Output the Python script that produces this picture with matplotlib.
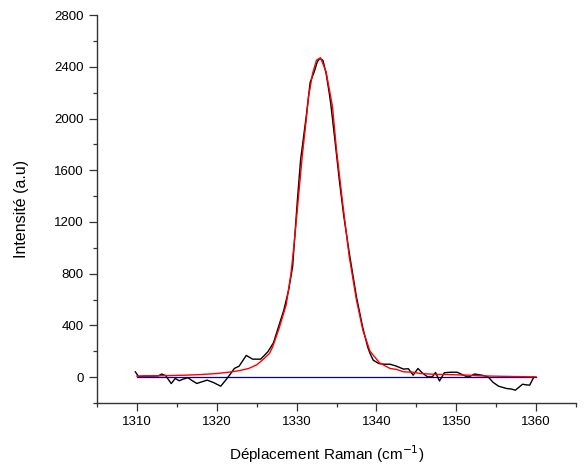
import matplotlib
matplotlib.use("Agg")
import matplotlib.pyplot as plt
from matplotlib.ticker import MultipleLocator

plt.rcParams['font.family'] = ['Liberation Sans', 'DejaVu Sans']

# Experimental Raman spectrum (black)
raman_x = [1309.8, 1310.2, 1311.0, 1312.0, 1312.7, 1313.1, 1313.6, 1314.3, 1314.8, 1315.3,
           1315.8, 1316.4, 1317.0, 1317.5, 1318.2, 1318.8, 1319.6, 1320.5, 1321.1, 1321.6,
           1322.2, 1322.8, 1323.7, 1324.5, 1325.5, 1326.4, 1327.1, 1327.8, 1328.4, 1329.0,
           1329.5, 1329.8, 1330.1, 1330.5, 1331.2, 1331.7, 1332.2, 1332.6, 1332.9, 1333.3,
           1333.7, 1334.1, 1334.3, 1334.8, 1335.4, 1335.9, 1336.6, 1337.5, 1338.3, 1338.9,
           1339.2, 1339.6, 1340.3, 1341.0, 1341.7, 1342.5, 1343.4, 1344.0, 1344.6, 1345.2,
           1345.7, 1346.4, 1347.0, 1347.4, 1347.9, 1348.5, 1349.3, 1350.1, 1350.9, 1351.5,
           1352.3, 1353.2, 1354.0, 1354.6, 1355.3, 1356.3, 1356.9, 1357.4, 1358.3, 1358.8,
           1359.2, 1359.7]
raman_y = [41, 5, 8, 8, 10, 24, 12, -50, -10, -28,
           -15, -5, -30, -49, -35, -23, -42, -70, -25, 15,
           67, 85, 168, 139, 139, 196, 265, 402, 518, 673,
           853, 1111, 1369, 1680, 2013, 2280, 2360, 2440, 2465, 2450,
           2348, 2193, 2103, 1833, 1498, 1250, 960, 620, 380, 234,
           183, 131, 105, 100, 100, 85, 62, 65, 15, 67,
           35, 2, 2, 36, -30, 34, 38, 38, 15, 0,
           24, 15, 2, -40, -70, -88, -92, -101, -55, -60,
           -62, 0]

# Fitted curve (red)
fit_x = [1310.0, 1312.0, 1314.0, 1316.0, 1318.0, 1320.0, 1321.5, 1322.8, 1324.0, 1325.0,
         1325.7, 1326.6, 1327.0, 1327.8, 1328.7, 1329.3, 1329.7, 1330.2, 1330.7, 1331.2,
         1331.5, 1332.0, 1332.5, 1333.0, 1333.7, 1334.5, 1335.0, 1335.8, 1336.6, 1337.5,
         1338.3, 1339.2, 1340.4, 1341.7, 1342.5, 1343.4, 1344.6, 1345.5, 1347.5, 1348.8,
         1351.5, 1353.0, 1356.0, 1360.0]
fit_y = [8, 10, 12, 15, 20, 28, 38, 50, 67, 95,
         131, 183, 234, 375, 560, 802, 1034, 1369, 1704, 1988,
         2168, 2348, 2452, 2470, 2361, 2090, 1756, 1330, 930, 596,
         363, 200, 110, 67, 60, 41, 38, 28, 21, 20,
         15, 10, 6, 2]

# Baseline (blue)
base_x = [1310, 1360]
base_y = [0, 0]

fig = plt.figure(figsize=(5.86, 4.72), dpi=100)
ax = fig.add_axes([0.1655, 0.1462, 0.8175, 0.8218])

ax.plot(base_x, base_y, color='#0000aa', lw=0.9)
ax.plot(raman_x, raman_y, color='black', lw=1.0)
ax.plot(fit_x, fit_y, color='#ff0000', lw=1.0)

ax.set_xlim(1305, 1365)
ax.set_ylim(-200, 2800)
ax.xaxis.set_major_locator(MultipleLocator(10))
ax.xaxis.set_minor_locator(MultipleLocator(5))
ax.yaxis.set_major_locator(MultipleLocator(400))
ax.yaxis.set_minor_locator(MultipleLocator(200))

for s in ['top', 'right']:
    ax.spines[s].set_visible(False)
for s in ['left', 'bottom']:
    ax.spines[s].set_color('#333333')
    ax.spines[s].set_linewidth(1.0)

ax.tick_params(which='major', direction='out', length=5.5, width=0.9, color='#333333',
               labelsize=9.5, pad=4)
ax.tick_params(which='minor', direction='out', length=3, width=0.9, color='#333333')

ax.set_xlabel('Déplacement Raman (cm$^{-1}$)', fontsize=11, labelpad=8)
ax.xaxis.set_label_coords(0.48, -0.105)
ax.set_ylabel('Intensité (a.u)', fontsize=11.5, labelpad=18)

fig.savefig('out.png', dpi=100)
